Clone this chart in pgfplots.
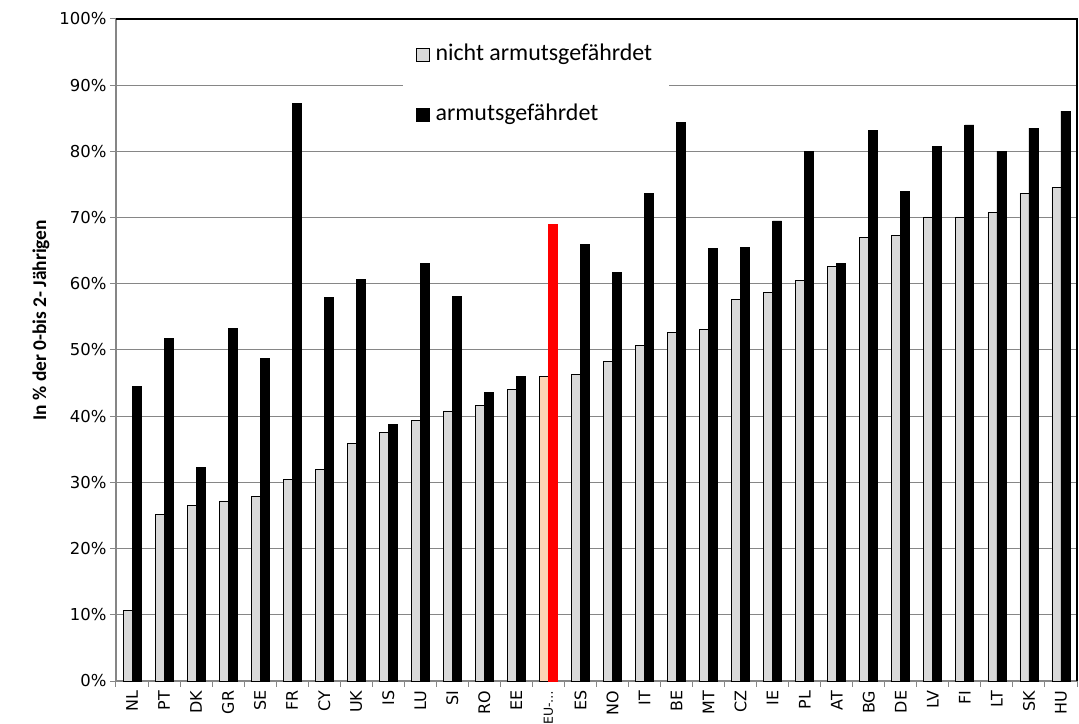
\documentclass[border=0pt]{standalone}
\usepackage{pgfplots}
\pgfplotsset{compat=1.18}
\usepackage{pgfplotstable}
\usepackage{fontspec}
\setmainfont{Carlito}
\newfontfamily\dejavu{DejaVu Sans}

\definecolor{bargrey}{HTML}{D9D9D9}
\definecolor{gridgrey}{HTML}{868686}
\definecolor{peach}{HTML}{FCD5B5}

% x = position of the country, nicht = not at risk, armut = at risk of poverty
\pgfplotstableread{
x  nicht armut
0  10.6  44.5
1  25.2  51.8
2  26.5  32.2
3  27.2  53.3
4  27.9  48.7
5  30.5  87.2
6  32.0  57.9
7  35.9  60.6
8  37.6  38.8
9  39.4  63.1
10 40.8  58.1
11 41.6  43.6
12 44.1  46.0
14 46.3  66.0
15 48.3  61.7
16 50.7  73.7
17 52.7  84.4
18 53.1  65.4
19 57.7  65.5
20 58.7  69.5
21 60.5  80.0
22 62.6  63.1
23 67.0  83.1
24 67.3  73.9
25 70.1  80.7
26 70.1  84.0
27 70.8  80.0
28 73.7  83.5
29 74.6  86.1
}\countries

\pgfplotsset{sqleg/.style={legend image code/.code={\draw[##1] (0bp,-6.5bp) rectangle (13bp,6.5bp);}}}
\newcommand\tickfont{\dejavu\fontsize{16}{19}\selectfont}

\begin{document}
\begin{tikzpicture}
\begin{axis}[
    name=ax,
    scale only axis,
    width=961bp, height=662bp,
    xmin=-0.5, xmax=29.5,
    ymin=0, ymax=100,
    clip=false,
    ybar, bar width=9bp,
    axis line style={draw=gridgrey, line width=1.2bp},
    xtick={-0.5,0.5,...,29.5},
    x tick label as interval,
    xticklabels={\tickfont NL,\tickfont PT,\tickfont DK,\tickfont GR,\tickfont SE,\tickfont FR,\tickfont CY,\tickfont UK,\tickfont IS,\tickfont LU,\tickfont SI,\tickfont RO,\tickfont EE,{\dejavu\fontsize{12.5}{15}\selectfont EU-…},\tickfont ES,\tickfont NO,\tickfont IT,\tickfont BE,\tickfont MT,\tickfont CZ,\tickfont IE,\tickfont PL,\tickfont AT,\tickfont BG,\tickfont DE,\tickfont LV,\tickfont FI,\tickfont LT,\tickfont SK,\tickfont HU},
    ytick={0,10,...,100},
    yticklabel={\dejavu\fontsize{16.5}{19}\selectfont\pgfmathprintnumber{\tick}\%},
    /pgf/number format/assume math mode=true,
    xtick pos=bottom, ytick pos=left,
    tick align=outside,
    major tick length=6bp,
    tick style={draw=gridgrey, line width=1bp},
    xticklabel style={rotate=90, anchor=east, inner sep=3.5bp},
    ymajorgrids,
    grid style={draw=gridgrey, line width=1bp},
    ylabel={In \% der 0-bis 2- Jährigen},
    every axis y label/.style={at={(axis description cs:0,0.545)}, xshift=-75bp, rotate=90, anchor=center,
        font=\bfseries\fontsize{19.5}{23}\selectfont},
    legend style={at={(axis description cs:0.2987,0.991)}, anchor=north west,
        draw=none, fill=white, font=\fontsize{24}{28}\selectfont,
        inner xsep=13bp, inner ysep=14.5bp, row sep=30bp,
        nodes={inner sep=3.5bp, text height=17bp, text depth=6bp},
        /tikz/every odd column/.append style={column sep=2bp}},
    legend cell align=left,
]
\addplot[sqleg, bar shift=-4.5bp, fill=bargrey, draw=black, line width=0.8bp]
    table[x=x, y=nicht] {\countries};
\addlegendentry{nicht armutsgefährdet}
\addplot[sqleg, bar shift=4.5bp, fill=black, draw=black, line width=0.8bp]
    table[x=x, y=armut] {\countries};
\addlegendentry{armutsgefährdet}
% EU average in its own colours
\addplot[forget plot, bar shift=-4.5bp, fill=peach, draw=black, line width=0.8bp]
    coordinates {(13,46.0)};
\addplot[forget plot, bar shift=4.5bp, fill=red, draw=red, line width=0.8bp]
    coordinates {(13,68.9)};
\draw[black, line width=1.2bp] (rel axis cs:0,1) -- (rel axis cs:1,1) -- (rel axis cs:1,0);
\end{axis}
\pgfresetboundingbox
\path[use as bounding box] ([xshift=-116bp,yshift=-43bp]ax.south west)
    rectangle ([xshift=2bp,yshift=19bp]ax.north east);
\end{tikzpicture}
\end{document}
